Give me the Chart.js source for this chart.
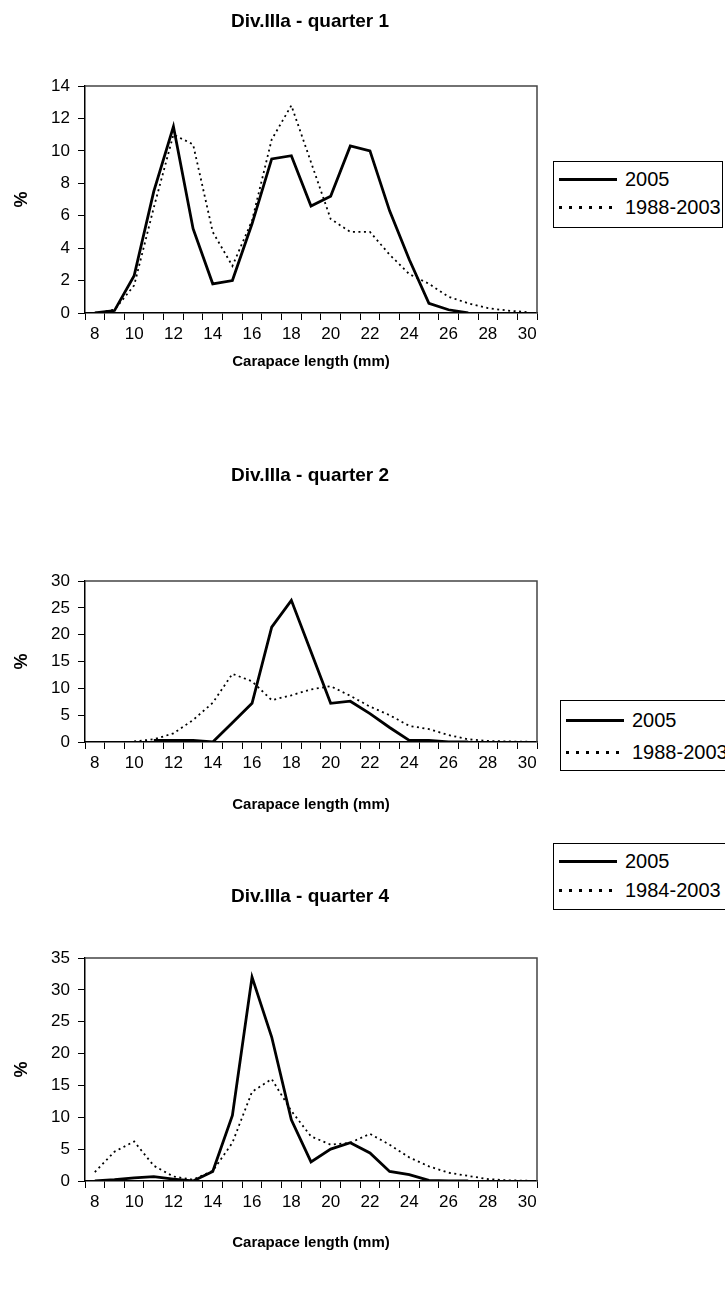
<!DOCTYPE html>
<html>
<head>
<meta charset="utf-8">
<title>Div.IIIa length distributions</title>
<script src="https://cdn.jsdelivr.net/npm/chart.js@4.4.1/dist/chart.umd.min.js"></script>
<style>
  html, body { margin: 0; padding: 0; background: #fff; }
  #page { position: relative; width: 725px; height: 1298px; overflow: hidden;
          font-family: "Liberation Sans", Arial, sans-serif; }
  canvas.panel { position: absolute; left: 0; }
  .legend { position: absolute; border: 1px solid #000; background: #fff; box-sizing: border-box;
            font-size: 20px; color: #000; padding: 3px 0 0 5px; }
  .legend .row { display: flex; align-items: center; white-space: nowrap; }
  .legend .swatch { width: 58px; margin-right: 8px; }
  .legend .solid { height: 0; border-top: 3px solid #000; }
  .legend .dots { height: 3px;
                  background: repeating-linear-gradient(to right, #000 0 3px, transparent 3px 10px); }
</style>
</head>
<body>
<div id="page">
  <canvas id="q1" class="panel"></canvas>
  <canvas id="q2" class="panel"></canvas>
  <canvas id="q4" class="panel"></canvas>
</div>
<script>
// carapace length classes (mm)
var LENGTHS = [8, 9, 10, 11, 12, 13, 14, 15, 16, 17, 18, 19, 20, 21, 22, 23, 24, 25, 26, 27, 28, 29, 30];

// quarter 1, % by length class
var Q1_2005 = [0, 0.15, 2.3, 7.5, 11.5, 5.2, 1.8, 2.0, 5.5, 9.5, 9.7, 6.6, 7.2, 10.3, 10.0, 6.3, 3.3, 0.6, 0.2, 0, null, null, null];
var Q1_REF = [0, 0.2, 1.7, 6.5, 11.0, 10.4, 5.0, 2.9, 5.7, 10.7, 12.8, 9.3, 5.8, 5.0, 5.0, 3.6, 2.4, 1.8, 1.0, 0.6, 0.3, 0.15, 0.05];

// quarter 2
var Q2_2005 = [null, null, null, 0.3, 0.3, 0.3, 0, 3.6, 7.2, 21.4, 26.4, 16.8, 7.2, 7.6, 5.3, 2.7, 0.3, 0.3, 0, 0, null, null, null];
var Q2_REF = [null, null, 0.1, 0.5, 1.6, 4.1, 7.3, 12.7, 11.3, 7.8, 8.7, 9.8, 10.4, 8.6, 6.6, 5.0, 3.0, 2.4, 1.3, 0.5, 0.2, 0.1, 0.05];

// quarter 4
var Q4_2005 = [0, 0.2, 0.5, 0.7, 0.3, 0, 1.5, 10.3, 32.0, 22.6, 9.6, 3.0, 5.0, 6.0, 4.4, 1.5, 1.0, 0.1, 0, 0, null, null, null];
var Q4_REF = [1.4, 4.6, 6.2, 2.4, 0.7, 0.2, 1.6, 6.0, 14.0, 16.0, 11.0, 7.0, 5.7, 6.0, 7.4, 5.7, 3.7, 2.3, 1.3, 0.8, 0.3, 0.1, 0.05];

var FONT = '"Liberation Sans", Arial, sans-serif';
Chart.defaults.font.family = FONT;
Chart.defaults.color = '#000';

var TITLE_SIZE = 19;
var TICK_SIZE = 17;
var AXIS_TITLE_SIZE = 15;

// top and right edges of the plot box (left/bottom come from the axes)
var plotFrame = {
  id: 'plotFrame',
  beforeDatasetsDraw: function (chart) {
    var a = chart.chartArea;
    var ctx = chart.ctx;
    ctx.save();
    ctx.strokeStyle = '#444';
    ctx.lineWidth = 1.5;
    ctx.beginPath();
    ctx.moveTo(a.left, a.top);
    ctx.lineTo(a.right, a.top);
    ctx.lineTo(a.right, a.bottom);
    ctx.stroke();
    ctx.restore();
  }
};

function addLegend(names, box) {
  var page = document.getElementById('page');
  var el = document.createElement('div');
  el.className = 'legend';
  el.style.left = box.left + 'px';
  el.style.top = box.top + 'px';
  el.style.width = box.width + 'px';
  el.style.height = box.height + 'px';
  names.forEach(function (name, i) {
    var row = document.createElement('div');
    row.className = 'row';
    row.style.height = box.row + 'px';
    var sw = document.createElement('span');
    sw.className = 'swatch ' + (i === 0 ? 'solid' : 'dots');
    var txt = document.createElement('span');
    txt.textContent = name;
    row.appendChild(sw);
    row.appendChild(txt);
    el.appendChild(row);
  });
  page.appendChild(el);
}

function buildPanel(id, cfg) {
  var g = cfg.geom;
  var canvas = document.getElementById(id);
  canvas.width = 725;
  canvas.height = g.height;
  canvas.style.top = g.top + 'px';
  canvas.style.width = '725px';
  canvas.style.height = g.height + 'px';

  var titleLH = TITLE_SIZE * 1.2;
  var titlePadTop = g.titleY - g.top - titleLH / 2;
  var titlePadBottom = g.plotTop - g.top - titlePadTop - titleLH;
  var xAxisHeight = g.top + g.height - g.plotBottom;
  var xTitlePadBottom = g.top + g.height - g.xTitleY - AXIS_TITLE_SIZE * 1.2 / 2;
  // the title is centred over 0..620; the plot ends at 537
  var titleRight = 620;

  new Chart(canvas, {
    type: 'line',
    data: {
      labels: LENGTHS,
      datasets: [
        {
          label: cfg.names[0],
          data: cfg.main,
          borderColor: '#000',
          borderWidth: 2.8,
          pointRadius: 0,
          tension: 0,
          spanGaps: false
        },
        {
          label: cfg.names[1],
          data: cfg.ref,
          borderColor: '#000',
          borderWidth: 1.8,
          borderDash: [2, 3.5],
          borderCapStyle: 'butt',
          pointRadius: 0,
          tension: 0,
          spanGaps: false
        }
      ]
    },
    options: {
      responsive: false,
      animation: false,
      events: [],
      layout: { padding: { left: 0, right: 725 - titleRight, top: 0, bottom: 0 } },
      plugins: {
        legend: { display: false },
        tooltip: { enabled: false },
        title: {
          display: true,
          text: cfg.title,
          color: '#000',
          font: { size: TITLE_SIZE, weight: 'bold', family: FONT },
          padding: { top: titlePadTop, bottom: titlePadBottom }
        }
      },
      scales: {
        x: {
          type: 'category',
          offset: true,
          grid: { display: true, drawOnChartArea: false, drawTicks: true, tickLength: 7, offset: true, color: '#000', lineWidth: 1 },
          border: { display: true, color: '#000', width: 1.5 },
          ticks: {
            autoSkip: false, maxRotation: 0, minRotation: 0, padding: 4,
            font: { size: TICK_SIZE, family: FONT },
            callback: function (value, index) {
              var v = LENGTHS[index];
              return v % 2 === 0 ? String(v) : '';
            }
          },
          title: {
            display: true, text: 'Carapace length (mm)', color: '#000',
            font: { size: AXIS_TITLE_SIZE, weight: 'bold', family: FONT },
            padding: { top: 0, bottom: xTitlePadBottom }
          },
          afterFit: function (scale) { scale.height = xAxisHeight; }
        },
        y: {
          min: 0,
          max: cfg.yMax,
          grid: { display: true, drawOnChartArea: false, drawTicks: true, tickLength: 7, color: '#000', lineWidth: 1 },
          border: { display: true, color: '#000', width: 1.5 },
          ticks: { stepSize: cfg.yStep, padding: 8, font: { size: TICK_SIZE, family: FONT } },
          title: {
            display: true, text: '%', color: '#000',
            font: { size: 18, weight: 'bold', family: FONT },
            padding: { top: 11, bottom: 0 }
          },
          afterFit: function (scale) { scale.width = 85; }
        },
        // empty strip between the plot and the legend
        gap: {
          type: 'linear',
          position: 'right',
          display: true,
          grid: { display: false },
          border: { display: false },
          ticks: { display: false },
          afterFit: function (scale) { scale.width = titleRight - 537; }
        }
      }
    },
    plugins: [plotFrame]
  });

  addLegend(cfg.names, cfg.legendBox);
}

buildPanel('q1', {
  title: 'Div.IIIa - quarter 1',
  names: ['2005', '1988-2003'],
  main: Q1_2005, ref: Q1_REF, yMax: 14, yStep: 2,
  geom: { top: 0, height: 385, titleY: 22, plotTop: 86, plotBottom: 313, xTitleY: 362 },
  legendBox: { left: 553, top: 161, width: 170, height: 67, row: 28 }
});

buildPanel('q2', {
  title: 'Div.IIIa - quarter 2',
  names: ['2005', '1988-2003'],
  main: Q2_2005, ref: Q2_REF, yMax: 30, yStep: 5,
  geom: { top: 430, height: 400, titleY: 476, plotTop: 581, plotBottom: 742, xTitleY: 805 },
  legendBox: { left: 560, top: 700, width: 180, height: 71, row: 32 }
});

buildPanel('q4', {
  title: 'Div.IIIa - quarter 4',
  names: ['2005', '1984-2003'],
  main: Q4_2005, ref: Q4_REF, yMax: 35, yStep: 5,
  geom: { top: 860, height: 438, titleY: 897, plotTop: 958, plotBottom: 1181, xTitleY: 1243 },
  legendBox: { left: 553, top: 843, width: 180, height: 67, row: 29 }
});
</script>
</body>
</html>
